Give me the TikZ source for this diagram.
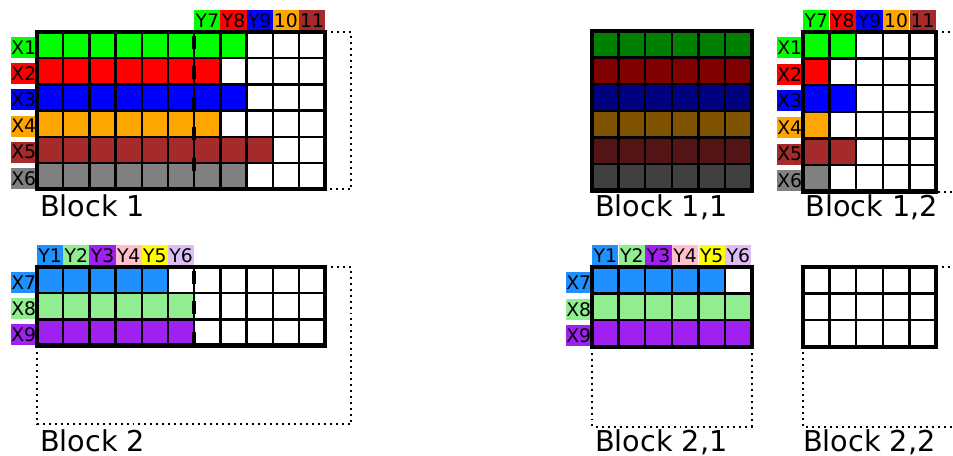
\documentclass[tikz,border=0pt]{standalone}
\usepackage{fontspec}
\setmainfont{DejaVu Sans}
\usepackage{tikz}
\usetikzlibrary{positioning}
\definecolor{c_green}{RGB}{0,255,0}
\definecolor{c_red}{RGB}{255,0,0}
\definecolor{c_blue}{RGB}{0,0,255}
\definecolor{c_orange}{RGB}{255,165,0}
\definecolor{c_brown}{RGB}{165,42,42}
\definecolor{c_gray}{RGB}{128,128,128}
\definecolor{c_dodger}{RGB}{30,144,255}
\definecolor{c_lgreen}{RGB}{144,238,144}
\definecolor{c_purple}{RGB}{160,32,240}
\definecolor{c_pink}{RGB}{255,192,203}
\definecolor{c_yellow}{RGB}{255,255,0}
\definecolor{c_lilac}{RGB}{220,190,245}

\begin{document}
\begin{tikzpicture}[x=0.03cm, y=-0.03cm,
      gridline/.style={line width=2pt},
      frame/.style   ={line width=3.6pt},
      dotbox/.style  ={line width=1.7pt, dash pattern=on 1.7pt off 3.4pt},
      cut/.style     ={line width=3.4pt, dash pattern=on 11pt off 15pt},
      collbl/.style  ={anchor=south, inner sep=0pt, minimum width=0.79cm, minimum height=0.62cm, font=\fontsize{16}{16}\selectfont},
      rowlbl/.style  ={anchor=east, inner sep=0pt, minimum width=0.78cm, minimum height=0.63cm, font=\fontsize{16}{16}\selectfont},
      title/.style   ={anchor=base west, inner sep=0pt, text depth=0pt, font=\fontsize{24.5}{29}\selectfont}]
    \useasboundingbox (0,0) rectangle (953,456);
    \clip (0,0) rectangle (953,456);
    % --- TOP LEFT: Block 1, rows X1..X6 over eleven columns ---
    \begin{scope}[shift={(37,32)}, x=0.786cm, y=-0.786cm]
      \foreach \nm/\col/\len [count=\row from 0] in {X1/c_green/8, X2/c_red/7, X3/c_blue/8, X4/c_orange/7, X5/c_brown/9, X6/c_gray/8} {
        \node[rowlbl, fill=\col] (b1-\nm) at (0,\row+0.59) {\nm};
        \fill[\col] (0,\row) rectangle (\len,\row+1);
      }
      \foreach \nm/\col [count=\i from 6] in {Y7/c_green, Y8/c_red, Y9/c_blue, 10/c_orange, 11/c_brown}
        \node[collbl, fill=\col] (b1-\nm) at (\i+0.5,-0.04) {\nm};
      \foreach \i in {1,...,10} \draw[gridline] (\i,0) -- (\i,6);
      \foreach \j in {1,...,5} \draw[gridline] (0,\j) -- (11,\j);
      \draw[frame] (0,0) rectangle (11,6);
      \draw[dotbox] (11,0) -- (12,0) -- (12,6) -- (11,6);
      \draw[cut] (6,0.15) -- (6,6);
      \node[title] (b1-title) at (0.11,7.06) {Block 1};
    \end{scope}
    % --- TOP RIGHT: Block 1,1, the full six by six part ---
    \begin{scope}[shift={(592,31)}, x=0.798cm, y=-0.798cm]
      \foreach \col [count=\row from 0] in {c_green, c_red, c_blue, c_orange, c_brown, c_gray}
        \fill[\col!50!black] (0,\row) rectangle (6,\row+1);
      \foreach \i in {1,...,5} \draw[gridline] (\i,0) -- (\i,6);
      \foreach \j in {1,...,5} \draw[gridline] (0,\j) -- (6,\j);
      \draw[frame] (0,0) rectangle (6,6);
      \node[title] (b11-title) at (0.11,6.99) {Block 1,1};
    \end{scope}
    % --- TOP RIGHT: Block 1,2, the rest of the columns ---
    \begin{scope}[shift={(803,32)}, x=0.798cm, y=-0.798cm]
      \foreach \nm/\col/\len [count=\row from 0] in {X1/c_green/2, X2/c_red/1, X3/c_blue/2, X4/c_orange/1, X5/c_brown/2, X6/c_gray/1} {
        \node[rowlbl, fill=\col] (b12-\nm) at (0,\row+0.59) {\nm};
        \fill[\col] (0,\row) rectangle (\len,\row+1);
      }
      \foreach \nm/\col [count=\i from 0] in {Y7/c_green, Y8/c_red, Y9/c_blue, 10/c_orange, 11/c_brown}
        \node[collbl, fill=\col] (b12-\nm) at (\i+0.5,-0.04) {\nm};
      \foreach \i in {1,...,4} \draw[gridline] (\i,0) -- (\i,6);
      \foreach \j in {1,...,5} \draw[gridline] (0,\j) -- (5,\j);
      \draw[frame] (0,0) rectangle (5,6);
      \draw[dotbox] (5,0) -- (6,0) -- (6,6) -- (5,6);
      \node[title] (b12-title) at (0.08,6.95) {Block 1,2};
    \end{scope}
    % --- BOTTOM LEFT: Block 2, rows X7..X9 ---
    \begin{scope}[shift={(37,267)}, x=0.786cm, y=-0.786cm]
      \foreach \nm/\col/\len [count=\row from 0] in {X7/c_dodger/5, X8/c_lgreen/6, X9/c_purple/6} {
        \node[rowlbl, fill=\col] (b2-\nm) at (0,\row+0.59) {\nm};
        \fill[\col] (0,\row) rectangle (\len,\row+1);
      }
      \foreach \nm/\col [count=\i from 0] in {Y1/c_dodger, Y2/c_lgreen, Y3/c_purple, Y4/c_pink, Y5/c_yellow, Y6/c_lilac}
        \node[collbl, fill=\col] (b2-\nm) at (\i+0.5,-0.04) {\nm};
      \foreach \i in {1,...,10} \draw[gridline] (\i,0) -- (\i,3);
      \foreach \j in {1,2} \draw[gridline] (0,\j) -- (11,\j);
      \draw[frame] (0,0) rectangle (11,3);
      \draw[dotbox] (11,0) -- (12,0) -- (12,6) -- (0,6) -- (0,3);
      \draw[cut] (6,0.15) -- (6,3);
      \node[title] (b2-title) at (0.11,7.06) {Block 2};
    \end{scope}
    % --- BOTTOM RIGHT: Block 2,1 and Block 2,2 ---
    \begin{scope}[shift={(592,267)}, x=0.798cm, y=-0.798cm]
      \foreach \nm/\col/\len [count=\row from 0] in {X7/c_dodger/5, X8/c_lgreen/6, X9/c_purple/6} {
        \node[rowlbl, fill=\col] (b21-\nm) at (0,\row+0.59) {\nm};
        \fill[\col] (0,\row) rectangle (\len,\row+1);
      }
      \foreach \nm/\col [count=\i from 0] in {Y1/c_dodger, Y2/c_lgreen, Y3/c_purple, Y4/c_pink, Y5/c_yellow, Y6/c_lilac}
        \node[collbl, fill=\col] (b21-\nm) at (\i+0.5,-0.04) {\nm};
      \foreach \i in {1,...,5} \draw[gridline] (\i,0) -- (\i,3);
      \foreach \j in {1,2} \draw[gridline] (0,\j) -- (6,\j);
      \draw[frame] (0,0) rectangle (6,3);
      \draw[dotbox] (0,3) -- (0,6) -- (6,6) -- (6,3);
      \node[title] (b21-title) at (0.11,6.95) {Block 2,1};
    \end{scope}
    \begin{scope}[shift={(803,267)}, x=0.798cm, y=-0.798cm]
      \foreach \i in {1,...,4} \draw[gridline] (\i,0) -- (\i,3);
      \foreach \j in {1,2} \draw[gridline] (0,\j) -- (5,\j);
      \draw[frame] (0,0) rectangle (5,3);
      \draw[dotbox] (5,0) -- (6,0) -- (6,6) -- (0,6) -- (0,3);
      \node[title] (b22-title) at (0,6.95) {Block 2,2};
    \end{scope}
  \end{tikzpicture}
\end{document}
